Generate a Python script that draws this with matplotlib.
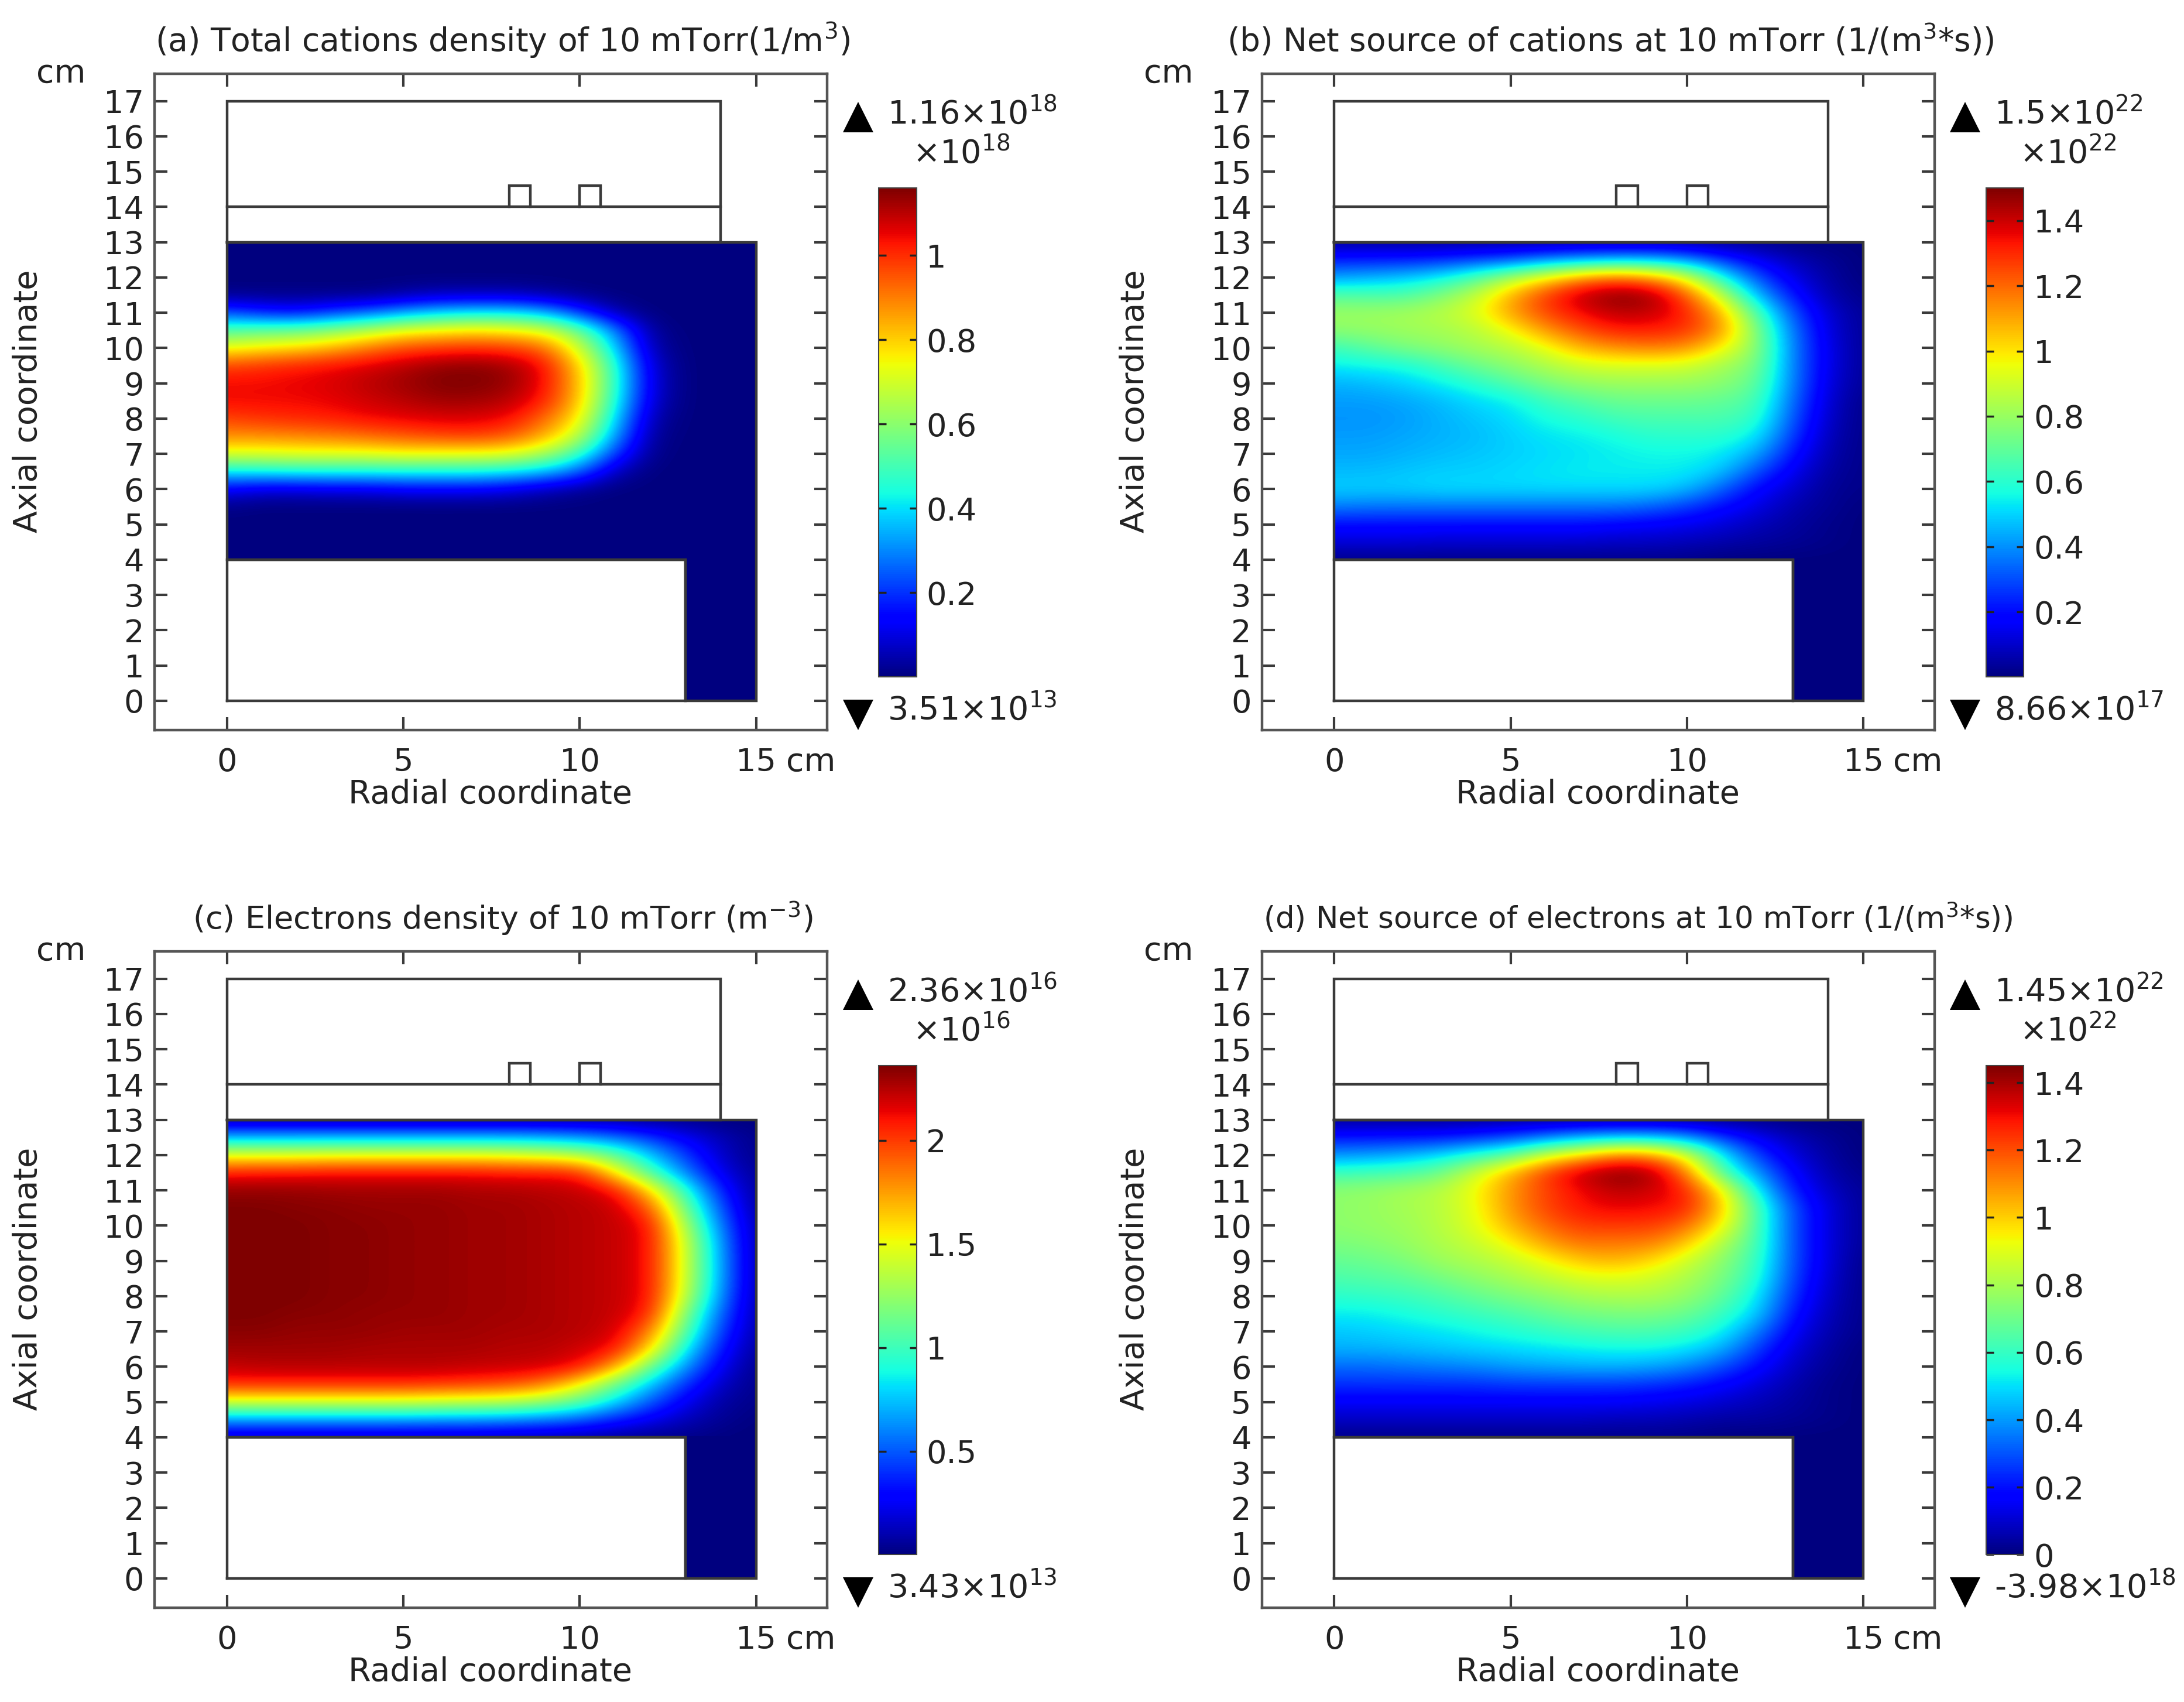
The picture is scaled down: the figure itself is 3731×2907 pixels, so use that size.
import numpy as np
import matplotlib
matplotlib.use('Agg')
import matplotlib.pyplot as plt
from matplotlib.lines import Line2D
from matplotlib.patches import Rectangle

plt.rcParams['font.family'] = 'DejaVu Sans'
plt.rcParams['mathtext.fontset'] = 'dejavusans'
plt.rcParams['mathtext.default'] = 'regular'

# field values, in % of the colour bar maximum
# rows go from z=13 cm down to z=4 cm in 0.5 cm steps, columns r=0..15 cm
r_cm = [0, 1, 2, 3, 4, 5, 6, 7, 8, 9, 10, 11, 12, 13, 14, 15]
z_cm = [13, 12.5, 12, 11.5, 11, 10.5, 10, 9.5, 9, 8.5, 8, 7.5, 7, 6.5, 6, 5.5, 5, 4.5, 4]

cations_density = [
    [0, 0, 0, 0, 0, 0, 0, 0, 0, 0, 0, 0, 0, 0, 0, 0],
    [0, 0, 0, 0, 0, 0, 0, 0, 0, 0, 0, 0, 0, 0, 0, 0],
    [0, 0, 0, 0, 0, 0, 0, 0, 0, 0, 0, 0, 0, 0, 0, 0],
    [1, 1, 1, 1, 1, 3, 5, 5, 5, 3, 1, 0, 0, 0, 0, 0],
    [20, 15, 13, 18, 22, 28, 33, 35, 35, 30, 17, 4, 0, 0, 0, 0],
    [45, 47, 48, 52, 57, 63, 65, 67, 65, 62, 48, 25, 2, 0, 0, 0],
    [63, 66, 68, 72, 78, 83, 85, 86, 85, 80, 60, 33, 4, 0, 0, 0],
    [84, 86, 88, 90, 92, 95, 98, 99, 97, 90, 69, 40, 7, 0, 0, 0],
    [90, 90, 91, 92, 95, 97, 100, 100, 98, 90, 71, 41, 8, 0, 0, 0],
    [90, 90, 90, 91, 93, 95, 97, 97, 95, 88, 70, 39, 7, 0, 0, 0],
    [84, 86, 87, 88, 90, 91, 92, 92, 90, 80, 66, 34, 4, 0, 0, 0],
    [76, 76, 77, 78, 80, 82, 84, 85, 82, 73, 58, 28, 2, 0, 0, 0],
    [62, 62, 63, 63, 63, 65, 64, 64, 63, 56, 42, 18, 1, 0, 0, 0],
    [36, 37, 38, 38, 38, 38, 38, 38, 36, 32, 22, 5, 0, 0, 0, 0],
    [11, 8, 8, 9, 9, 11, 11, 11, 9, 5, 2, 0, 0, 0, 0, 0],
    [1, 0, 0, 0, 0, 0, 0, 0, 0, 0, 0, 0, 0, 0, 0, 0],
    [0, 0, 0, 0, 0, 0, 0, 0, 0, 0, 0, 0, 0, 0, 0, 0],
    [0, 0, 0, 0, 0, 0, 0, 0, 0, 0, 0, 0, 0, 0, 0, 0],
    [0, 0, 0, 0, 0, 0, 0, 0, 0, 0, 0, 0, 0, 0, 0, 0],
]

cations_source = [
    [2, 2, 2, 2, 2, 2, 2, 2, 2, 2, 2, 1, 1, 0, 0, 0],
    [15, 15, 15, 16, 18, 20, 25, 28, 30, 30, 26, 17, 10, 5, 2, 0],
    [28, 30, 32, 36, 44, 55, 65, 75, 80, 75, 62, 38, 20, 9, 3, 0],
    [45, 44, 44, 50, 58, 72, 85, 95, 100, 98, 82, 58, 30, 14, 4, 1],
    [54, 54, 55, 57, 62, 74, 84, 90, 95, 94, 88, 72, 44, 20, 7, 2],
    [52, 53, 54, 55, 57, 64, 75, 83, 88, 88, 86, 76, 50, 24, 8, 2],
    [42, 46, 50, 52, 55, 57, 63, 72, 76, 78, 76, 65, 52, 25, 9, 2],
    [36, 37, 38, 43, 48, 52, 56, 60, 61, 61, 60, 55, 50, 25, 9, 2],
    [30, 31, 33, 36, 40, 45, 50, 53, 54, 54, 54, 52, 47, 25, 8, 2],
    [28, 28, 29, 31, 34, 36, 42, 45, 48, 48, 48, 47, 44, 23, 7, 1],
    [27, 27, 28, 30, 32, 34, 38, 40, 43, 44, 44, 44, 41, 21, 6, 1],
    [28, 28, 29, 30, 31, 33, 35, 36, 38, 40, 40, 40, 36, 18, 5, 1],
    [29, 29, 30, 31, 32, 33, 34, 35, 36, 37, 37, 36, 29, 14, 4, 1],
    [31, 31, 32, 33, 33, 34, 35, 36, 36, 36, 36, 32, 20, 10, 3, 1],
    [33, 33, 33, 34, 34, 34, 34, 34, 34, 34, 31, 22, 12, 7, 2, 1],
    [25, 24, 24, 24, 24, 24, 24, 24, 24, 22, 18, 13, 9, 4, 2, 0],
    [13, 13, 13, 13, 13, 13, 13, 13, 12, 11, 10, 8, 5, 3, 1, 0],
    [8, 8, 8, 7, 7, 7, 7, 7, 6, 6, 5, 4, 3, 2, 1, 0],
    [1, 1, 1, 1, 1, 1, 1, 1, 1, 1, 1, 0, 0, 0, 0, 0],
]

electrons_density = [
    [2, 2, 2, 2, 2, 2, 2, 2, 2, 2, 2, 2, 1, 1, 0, 0],
    [30, 30, 30, 30, 30, 30, 30, 30, 30, 29, 27, 23, 17, 10, 5, 1],
    [62, 62, 62, 63, 63, 63, 63, 63, 62, 60, 56, 47, 32, 18, 6, 1],
    [88, 89, 89, 90, 90, 90, 90, 90, 89, 89, 88, 66, 44, 25, 9, 2],
    [98, 98, 98, 97, 97, 97, 97, 96, 96, 95, 94, 90, 68, 40, 15, 2],
    [100, 100, 99, 99, 98, 98, 98, 97, 97, 96, 95, 94, 82, 48, 20, 2],
    [100, 100, 100, 99, 99, 98, 98, 97, 97, 96, 95, 94, 90, 55, 24, 3],
    [100, 100, 100, 99, 99, 98, 98, 97, 97, 96, 95, 94, 90, 60, 27, 3],
    [100, 100, 100, 99, 99, 98, 98, 97, 97, 96, 95, 94, 90, 60, 28, 3],
    [100, 100, 100, 99, 99, 98, 98, 97, 97, 96, 95, 94, 90, 60, 28, 3],
    [100, 100, 100, 99, 99, 98, 98, 97, 97, 96, 95, 94, 90, 58, 26, 3],
    [100, 100, 99, 99, 98, 98, 98, 97, 97, 96, 95, 94, 88, 50, 22, 3],
    [99, 99, 98, 98, 98, 97, 97, 97, 96, 96, 95, 93, 78, 45, 18, 3],
    [97, 97, 97, 97, 96, 96, 96, 96, 95, 95, 93, 90, 68, 36, 14, 2],
    [94, 95, 95, 95, 95, 95, 95, 94, 94, 93, 90, 74, 48, 27, 10, 1],
    [87, 87, 87, 87, 87, 87, 86, 85, 83, 78, 65, 48, 32, 17, 6, 1],
    [60, 60, 60, 60, 60, 60, 59, 58, 57, 53, 46, 34, 21, 10, 3, 1],
    [28, 28, 28, 28, 28, 28, 27, 27, 26, 24, 21, 15, 10, 5, 2, 0],
    [5, 5, 5, 5, 5, 5, 5, 5, 4, 4, 3, 2, 1, 1, 0, 0],
]

electrons_source = [
    [2, 2, 2, 2, 2, 2, 2, 2, 2, 2, 2, 1, 1, 0, 0, 0],
    [14, 14, 14, 14, 16, 19, 24, 29, 31, 31, 27, 17, 10, 5, 2, 0],
    [27, 28, 30, 34, 40, 46, 60, 68, 78, 76, 62, 36, 18, 8, 3, 0],
    [42, 43, 44, 48, 60, 72, 85, 95, 100, 98, 78, 44, 27, 12, 4, 1],
    [52, 53, 55, 57, 64, 75, 84, 90, 95, 93, 88, 66, 36, 15, 6, 2],
    [52, 53, 55, 57, 63, 75, 84, 89, 91, 90, 88, 70, 44, 20, 8, 2],
    [52, 53, 54, 57, 62, 72, 80, 85, 85, 85, 80, 65, 44, 20, 8, 2],
    [50, 51, 53, 56, 59, 65, 74, 79, 78, 78, 70, 56, 44, 20, 8, 2],
    [47, 48, 50, 54, 56, 59, 64, 70, 72, 68, 60, 52, 42, 20, 8, 1],
    [44, 45, 46, 49, 52, 55, 58, 61, 62, 60, 56, 50, 40, 19, 7, 1],
    [40, 41, 42, 44, 47, 50, 52, 55, 56, 56, 53, 47, 36, 17, 6, 1],
    [36, 36, 38, 40, 42, 44, 47, 49, 50, 50, 48, 42, 33, 14, 5, 1],
    [32, 33, 34, 35, 37, 39, 41, 43, 44, 44, 42, 37, 25, 11, 4, 1],
    [30, 30, 31, 32, 33, 34, 35, 36, 37, 37, 35, 30, 18, 8, 3, 0],
    [23, 23, 24, 25, 26, 28, 29, 30, 30, 29, 26, 20, 13, 6, 2, 0],
    [17, 17, 17, 17, 17, 18, 18, 18, 18, 17, 15, 12, 8, 4, 1, 0],
    [11, 11, 11, 11, 11, 11, 11, 11, 11, 10, 9, 7, 5, 3, 1, 0],
    [6, 6, 6, 6, 6, 6, 6, 6, 5, 5, 4, 3, 3, 2, 1, 0],
    [1, 1, 1, 1, 1, 1, 1, 1, 1, 1, 1, 0, 0, 0, 0, 0],
]

# dark blue leg under the main region (r=13..15, z=0..4), also in %
leg_values = [[0, 0], [0, 0]]

panel_fields = [cations_density, cations_source, electrons_density, electrons_source]
panel_titles = [
    '(a) Total cations density of 10 mTorr(1/m$^{3}$)',
    '(b) Net source of cations at 10 mTorr (1/(m$^{3}$*s))',
    '(c) Electrons density of 10 mTorr (m$^{-3}$)',
    '(d) Net source of electrons at 10 mTorr (1/(m$^{3}$*s))',
]
scale_labels = ['×10$^{18}$', '×10$^{22}$', '×10$^{16}$', '×10$^{22}$']
max_labels = ['1.16×10$^{18}$', '1.5×10$^{22}$', '2.36×10$^{16}$', '1.45×10$^{22}$']
min_labels = ['3.51×10$^{13}$', '8.66×10$^{17}$', '3.43×10$^{13}$', '-3.98×10$^{18}$']
# colour bar range and ticks, in units of the scale label
bar_max = [1.16, 1.5, 2.36, 1.45]
bar_min = [0.0, 0.0, 0.0, 0.0]
bar_ticks = [
    [0.2, 0.4, 0.6, 0.8, 1],
    [0.2, 0.4, 0.6, 0.8, 1, 1.2, 1.4],
    [0.5, 1, 1.5, 2],
    [0, 0.2, 0.4, 0.6, 0.8, 1, 1.2, 1.4],
]
bar_ticklabels = [
    ['0.2', '0.4', '0.6', '0.8', '1'],
    ['0.2', '0.4', '0.6', '0.8', '1', '1.2', '1.4'],
    ['0.5', '1', '1.5', '2'],
    ['0', '0.2', '0.4', '0.6', '0.8', '1', '1.2', '1.4'],
]
y_ticks = list(range(18))
x_ticks = [0, 5, 10, 15]

# layout in pixels of the 1568 wide preview
S = 3731 / 1568
W, H = 3731, 2907
lefts = [111, 906, 111, 906]
tops = [53, 53, 683, 683]
title_x = [361, 1156, 361, 1176]
title_fs = [39.8, 39.5, 39, 37]
AX_W, AX_H = 483, 471
LINE = '#3a3a3a'
TEXT = '#222222'
FS = 40
TICK_FS = 39
LW = 3.2


def fx(p):
    return p * S / W


def fy(p):
    return 1 - p * S / H


def draw_geometry(ax):
    lines = [
        ([0, 0, 14, 14, 0], [13, 17, 17, 13, 13]),
        ([0, 14], [14, 14]),
        ([8.0, 8.0, 8.6, 8.6], [14, 14.6, 14.6, 14]),
        ([10.0, 10.0, 10.6, 10.6], [14, 14.6, 14.6, 14]),
        ([0, 15, 15, 13, 13, 0, 0], [13, 13, 0, 0, 4, 4, 13]),
        ([0, 13, 13, 0, 0], [0, 0, 4, 4, 0]),
    ]
    for xs, ys in lines:
        ax.plot(xs, ys, color=LINE, lw=LW, solid_joinstyle='miter', zorder=3)


fig = plt.figure(figsize=(W / 100, H / 100), dpi=100)

for i in range(4):
    L, T = lefts[i], tops[i]
    R, B = L + AX_W, T + AX_H
    ax = fig.add_axes([fx(L), fy(B), fx(AX_W), AX_H * S / H])

    field = np.array(panel_fields[i]) / 100 * bar_max[i]
    dz = abs(z_cm[1] - z_cm[0])
    extent = (r_cm[0] - 0.5, r_cm[-1] + 0.5, z_cm[-1] - dz / 2, z_cm[0] + dz / 2)
    im = ax.imshow(field, cmap='jet', vmin=bar_min[i], vmax=bar_max[i], origin='upper',
                   extent=extent, aspect='auto', interpolation='bicubic', zorder=1)
    im.set_clip_path(Rectangle((0, 4), 15, 9, transform=ax.transData))
    ax.imshow(np.array(leg_values) / 100 * bar_max[i], cmap='jet', vmin=bar_min[i], vmax=bar_max[i],
              extent=(13, 15, 0, 4.02), aspect='auto', zorder=1)
    draw_geometry(ax)

    ax.set_xlim(-2.05, 17.02)
    ax.set_ylim(-0.83, 17.77)
    ax.set_xticks(x_ticks)
    ax.set_yticks(y_ticks)
    ax.tick_params(direction='in', top=True, right=True, length=16, width=3, color=LINE,
                   labelsize=TICK_FS, labelcolor=TEXT)
    ax.tick_params(axis='x', pad=21)
    ax.tick_params(axis='y', pad=13)
    for sp in ax.spines.values():
        sp.set_linewidth(LW)
        sp.set_color('#555555')

    kw = dict(fontsize=FS, color=TEXT, ha='center', va='center')
    fig.text(fx(title_x[i]), fy(T - 24), panel_titles[i], color=TEXT, ha='center', va='center',
             fontsize=title_fs[i])
    fig.text(fx(L + 241), fy(T + 517), 'Radial coordinate', **kw)
    fig.text(fx(L - 91), fy(T + 235), 'Axial coordinate', rotation=90, **kw)
    fig.text(fx(L - 67), fy(T), 'cm', **kw)
    fig.text(fx(L + 471), fy(T + 494), 'cm', **kw)

    # colour bar
    cax = fig.add_axes([fx(L + 520), fy(T + 433), fx(27), 351 * S / H])
    cb = fig.colorbar(im, cax=cax)
    cb.set_ticks(bar_ticks[i], labels=bar_ticklabels[i])
    cb.outline.set_linewidth(1.5)
    cb.outline.set_edgecolor('#444444')
    cax.tick_params(direction='in', left=True, right=True, length=9, width=2.5, color='#222222',
                    labelsize=TICK_FS, labelcolor=TEXT, pad=12)

    # max and min read-outs
    fig.add_artist(Line2D([fx(R + 22)], [fy(T + 31)], marker='^', ms=38, color='black',
                          mew=0, transform=fig.transFigure))
    fig.add_artist(Line2D([fx(R + 22)], [fy(B - 11)], marker='v', ms=38, color='black',
                          mew=0, transform=fig.transFigure))
    fig.text(fx(R + 43), fy(T + 29), max_labels[i], fontsize=FS, color=TEXT, ha='left', va='center')
    fig.text(fx(R + 61), fy(T + 57), scale_labels[i], fontsize=FS, color=TEXT, ha='left', va='center')
    fig.text(fx(R + 43), fy(B - 14), min_labels[i], fontsize=FS, color=TEXT, ha='left', va='center')

fig.savefig('out.png', dpi=100)
